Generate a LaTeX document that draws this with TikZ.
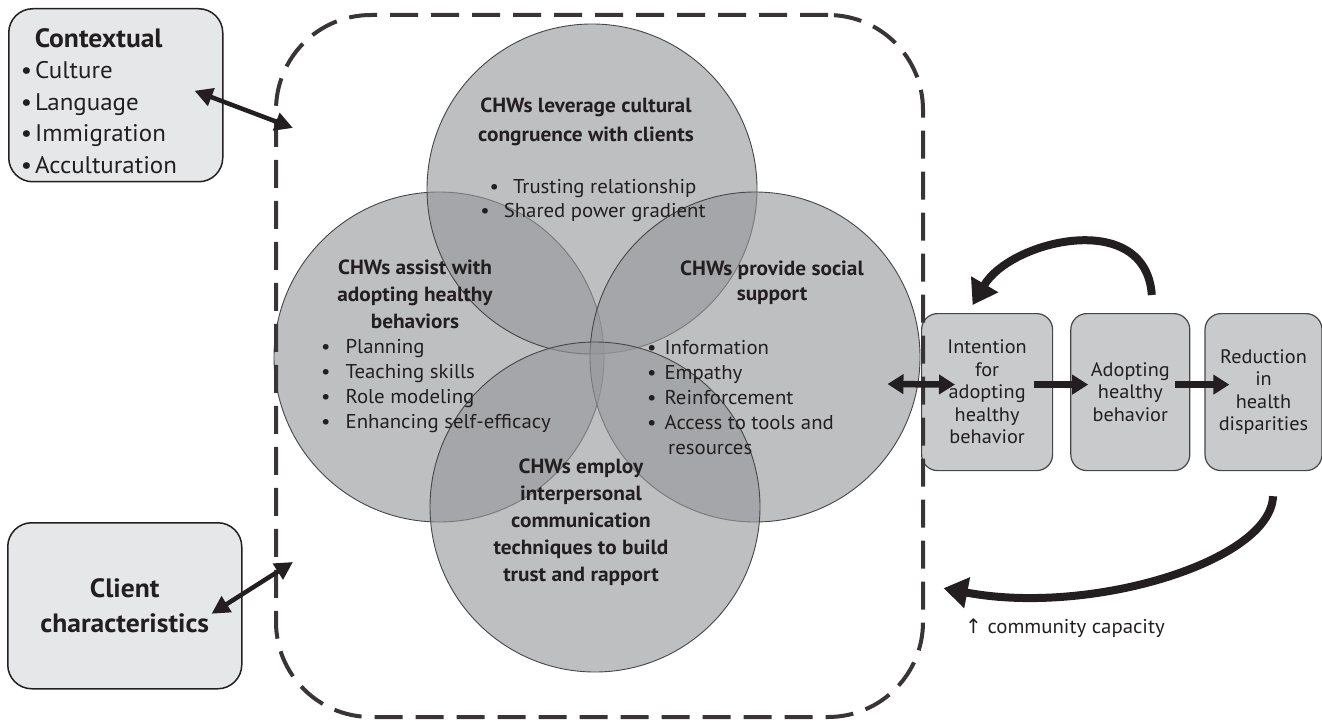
\documentclass[tikz,border=0pt]{standalone}
\usepackage{fontspec}
\setmainfont{PT Sans}[FakeStretch=1.04]
\newfontfamily\arrowfont{DejaVu Sans}
\usetikzlibrary{arrows.meta,positioning}
\definecolor{ink}{RGB}{35,31,32}
\definecolor{paper}{RGB}{230,231,232}
\definecolor{stone}{RGB}{201,202,204}
\definecolor{disc}{RGB}{150,151,154}
\definecolor{rim}{RGB}{70,70,72}
\tikzset{
  side box/.style={draw=ink,line width=1.5pt,fill=paper,rounded corners=24pt,
    inner sep=0pt,text=ink},
  stage box/.style={draw=rim,line width=1.2pt,fill=stone,rounded corners=16pt,
    minimum height=157pt,inner sep=0pt,align=center,text=ink,
    font=\fontsize{19.5}{22.5}\selectfont},
  frame/.style={draw=ink!90,line width=4pt,dash pattern=on 28pt off 13pt,
    rounded corners=95pt,inner sep=0pt},
  ring/.style={circle,draw=rim,line width=0.9pt,fill=disc,fill opacity=0.62,
    minimum size=330pt,inner sep=0pt},
  % multi-line texts are placed by the baseline of their last line
  head/.style={font=\bfseries\fontsize{20.5}{27}\selectfont,align=center,
    text=ink,inner sep=0pt,anchor=base},
  items/.style={font=\fontsize{20}{24.8}\selectfont,align=left,text=ink,
    inner sep=0pt,anchor=base west},
  wide link/.style={<->,>={Triangle[length=18pt,width=18pt]},line width=4.5pt,draw=ink},
  flow/.style={->,>={Triangle[length=16pt,width=19pt]},line width=6.5pt,draw=ink},
  both flow/.style={flow,<->},
  loop/.style={->,>={Triangle[length=24pt,width=30pt]},line width=8pt,draw=ink},
}

\begin{document}
\begin{tikzpicture}[x=1pt,y=-1pt]
  \useasboundingbox (0,0) rectangle (1322,722);

  % four overlapping roles
  \node[ring] (assist) at (439,357) {};
  \node[ring] (cult) at (592,189) {};
  \node[ring] (support) at (755,357) {};
  \node[ring] (rapport) at (595,507) {};

  \node[head,font=\bfseries\fontsize{20.5}{29}\selectfont] (culthead) at (586,142)
    {CHWs leverage cultural\\congruence with clients};
  \node[items,align=center,anchor=base] (cultlist) at (593,218)
    {\textbullet\hspace{14pt}Trusting relationship\\\textbullet\hspace{14pt}Shared power gradient};
  \node[head] (assisthead) at (415,328) {CHWs assist with\\adopting healthy\\behaviors};
  \node[items] (assistlist) at (321,428)
    {\textbullet\hspace{15pt}Planning\\\textbullet\hspace{15pt}Teaching skills\\
     \textbullet\hspace{15pt}Role modeling\\\textbullet\hspace{15pt}Enhancing self-efficacy};
  \node[head,font=\bfseries\fontsize{20.5}{25}\selectfont] (supporthead) at (772,300)
    {CHWs provide social\\support};
  \node[items] (supportlist) at (647,454)
    {\textbullet\hspace{8pt}Information\\\textbullet\hspace{8pt}Empathy\\
     \textbullet\hspace{8pt}Reinforcement\\\textbullet\hspace{8pt}Access to tools and\\
     \hspace{21pt}resources};
  \node[head] (rapporthead) at (581,581)
    {CHWs employ\\interpersonal\\communication\\techniques to build\\trust and rapport};

  % influences on the left
  \node[side box,minimum width=214pt,minimum height=173pt,text width=190pt,align=left,
    anchor=north west,font=\fontsize{24}{31.5}\selectfont] (ctx) at (8,8)
    {\rule{0pt}{30pt}\hspace*{14pt}{\fontsize{26.5}{31.5}\selectfont\bfseries Contextual}\\
     •\hspace{3pt}Culture\\•\hspace{3pt}Language\\•\hspace{3pt}Immigration\\•\hspace{3pt}Acculturation};
  \node[side box,minimum width=234pt,minimum height=166pt,align=center,anchor=north west,
    font=\bfseries\fontsize{26.5}{35}\selectfont] (client) at (7,522)
    {Client\\characteristics};

  % outcome chain
  \node[stage box,minimum width=131pt,anchor=north west] (intent) at (921,313)
    {Intention\\for\\adopting\\healthy\\behavior};
  \node[stage box,minimum width=119pt,right=17pt of intent] (adopt)
    {Adopting\\healthy\\behavior};
  \node[stage box,minimum width=117pt,right=14pt of adopt] (reduce)
    {Reduction\\in\\health\\disparities};

  \node[frame,minimum width=647pt,minimum height=702pt,anchor=north west] (box) at (274,13) {};

  % connectors
  \draw[wide link] ([xshift=-29pt,yshift=4.5pt]ctx.east) -- ([xshift=19pt,yshift=-115pt]box.north west);
  \draw[wide link] ([xshift=-31pt,yshift=-8pt]client.east) -- ([xshift=19pt,yshift=157pt]box.south west);
  \draw[both flow] ([xshift=-33pt,yshift=-27pt]support.east) -- ([xshift=34pt,yshift=7.5pt]intent.west);
  \draw[flow] ([xshift=-19pt,yshift=7.5pt]intent.east) -- ([xshift=18pt,yshift=7.5pt]adopt.west);
  \draw[flow] ([xshift=-15pt,yshift=7.5pt]adopt.east) -- ([xshift=25pt,yshift=7.5pt]reduce.west);
  \draw[loop] ([xshift=21.5pt,yshift=18pt]adopt.north)
    .. controls +(-6,-87) and +(38,-65) .. ([xshift=-14.5pt,yshift=8pt]intent.north);
  \draw[loop] ([xshift=9.5pt,yshift=-25pt]reduce.south)
    .. controls +(-2,65) and +(147,28) .. ([xshift=-43.5pt,yshift=-117pt]intent.south);

  \node[anchor=base west,inner sep=0pt,text=ink,font=\fontsize{20}{22}\selectfont] (capacity)
    at (965,633) {{\arrowfont ↑} community capacity};
\end{tikzpicture}
\end{document}
